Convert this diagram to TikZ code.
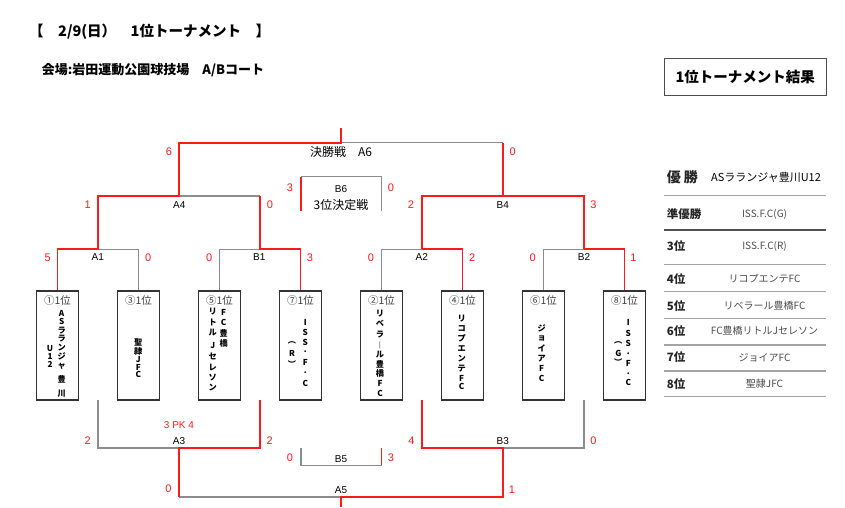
\documentclass[tikz,border=0pt]{standalone}
\usepackage{fontspec}
\setmainfont{Liberation Sans}
\newfontfamily\jp{Noto Sans CJK JP}
\definecolor{winred}{HTML}{FF1A1A}
\definecolor{lgray}{HTML}{8C8C8C}
\definecolor{dgray}{HTML}{505050}
\tikzset{
  win/.style={winred, line width=1.9pt},
  lose/.style={lgray, line width=1.2pt},
  teambox/.style={draw=black!80, line width=1.4pt, minimum width=41.5pt, minimum height=109pt, inner sep=0pt},
  score/.style={text=winred, font=\fontsize{11}{11}\selectfont, inner sep=0pt},
  mname/.style={font=\fontsize{10}{10}\selectfont, inner sep=0pt},
  seed/.style={font=\jp\fontsize{10.5}{10.5}\selectfont, text=black!75, inner sep=0pt},
  vch/.style={font=\jp\bfseries\fontsize{8.2}{8.2}\selectfont, text=black, inner sep=0pt},
  rank/.style={font=\jp\bfseries\fontsize{11.5}{11.5}\selectfont, text=black!85, anchor=west, inner sep=0pt},
  club/.style={font=\jp\fontsize{10}{10}\selectfont, text=black!70, inner sep=0pt},
  rule/.style={lgray!80, line width=1.2pt},
}
\begin{document}
\begin{tikzpicture}[x=1pt,y=-1pt]
\useasboundingbox[fill=white] (0,0) rectangle (845,507);
% headings
\node[anchor=west, inner sep=0pt, font=\jp\bfseries\fontsize{14.5}{14.5}\selectfont] (title) at (29,31.7) {【　2/9(日）　1位トーナメント　】};
\node[anchor=west, inner sep=0pt, font=\jp\bfseries\fontsize{13}{13}\selectfont] (venue) at (41.7,70) {会場:岩田運動公園球技場　A/Bコート};
% team boxes
\foreach \s/\x/\c in {1/57.5/①,3/138.5/③,5/219.5/⑤,7/300.5/⑦,2/381.5/②,4/462.5/④,6/543.5/⑥,8/624.5/⑧} {
  \node[teambox] (s\s) at (\x,345.5) {};
  \node[seed] (l\s) at (\x,300.5) {\c 1位};
}
% team names, written downwards
\foreach \ch/\yy [count=\i] in {A/313,S/321.3,ラ/330.3,ラ/338.7,ン/347.3,ジ/356.3,ャ/366.3,豊/379.7,川/394}
  \node[vch] (v1r\i) at (61.7,\yy) {\ch};
\foreach \ch/\yy [count=\i] in {U/348,1/356.3,2/364.7}
  \node[vch] (v1l\i) at (50,\yy) {\ch};
\foreach \ch/\yy [count=\i] in {聖/342.3,隷/351.3,J/359.7,F/367.3,C/374.7}
  \node[vch] (v3\i) at (138.3,\yy) {\ch};
\foreach \ch/\yy [count=\i] in {F/312,C/322.3,豊/333,橋/343}
  \node[vch] (v5r\i) at (223.7,\yy) {\ch};
\foreach \ch/\yy [count=\i] in {リ/312,ト/322.3,ル/333,J/345.3,セ/356.3,レ/367.3,ソ/378,ン/388}
  \node[vch] (v5l\i) at (212.7,\yy) {\ch};
\foreach \ch/\yy [count=\i] in {I/322.3,S/332.5,S/342.3,./351.8,F/362,./373,C/383}
  \node[vch] (v7r\i) at (305.3,\yy) {\ch};
\foreach \ch/\yy [count=\i] in {︵/343,R/353,︶/364}
  \node[vch] (v7l\i) at (292,\yy) {\ch};
\foreach \ch/\yy [count=\i] in {リ/313.3,ベ/323.3,ラ/335,︱/345,ル/355,豊/364.7,橋/373.7,F/383.3,C/393.3}
  \node[vch] (v2\i) at (380,\yy) {\ch};
\foreach \ch/\yy [count=\i] in {リ/318.3,コ/328.3,プ/338.3,エ/348.3,ン/358.3,テ/368.3,F/378.3,C/386.7}
  \node[vch] (v4\i) at (461.7,\yy) {\ch};
\foreach \ch/\yy [count=\i] in {ジ/328.3,ョ/338.3,イ/348.3,ア/358.3,F/368.3,C/378.3}
  \node[vch] (v6\i) at (541.7,\yy) {\ch};
\foreach \ch/\yy [count=\i] in {I/322.7,S/333.3,S/343.3,./353.3,F/363.3,./373.3,C/382.3}
  \node[vch] (v8r\i) at (628.3,\yy) {\ch};
\foreach \ch/\yy [count=\i] in {︵/343.3,G/353.3,︶/362.3}
  \node[vch] (v8l\i) at (618.3,\yy) {\ch};
% bracket points
\coordinate (a1) at (98,249.3);  \coordinate (b1) at (260,249.3);
\coordinate (a2) at (422,249.3); \coordinate (b2) at (584,249.3);
\coordinate (a4) at (179,196);   \coordinate (b4) at (503,196);
\coordinate (a6) at (341,142.7); \coordinate (top) at (341,128);
\coordinate (b6l) at (301,210.7); \coordinate (b6a) at (301,176.7);
\coordinate (b6r) at (381.5,210.7); \coordinate (b6b) at (381.5,176.7);
\coordinate (q1) at (98,400);  \coordinate (q2) at (260,400);
\coordinate (q3) at (422,400); \coordinate (q4) at (584,400);
\coordinate (a3) at (179,448);  \coordinate (b3) at (503,448);
\coordinate (a5) at (341,497);  \coordinate (bot) at (341,507);
\coordinate (b5l) at (301,448); \coordinate (b5a) at (301,465.3);
\coordinate (b5r) at (381.5,448); \coordinate (b5b) at (381.5,465.3);
% lost paths
\draw[lose] (a1) -| (s3.north);
\draw[lose] (b1) -| (s5.north);
\draw[lose] (a2) -| (s2.north);
\draw[lose] (b2) -| (s6.north);
\draw[lose] (a4) -- (a4 -| b1);
\draw[lose] (a6) -- (a6 -| b4);
\draw[lose] (b6a) -- (b6b) -- (b6r);
\draw[lose] (q1) |- (a3);
\draw[lose] (b3) -| (q4);
\draw[lose] (a3 |- a5) -- (a5);
\draw[lose] (b5l) -- (b5a) -- (b5b);
% winning paths
\draw[win] (s1.north) |- (a1) |- (a4) |- (a6) -- (top);
\draw[win] (a4 -| b1) -- (b1) -| (s7.north);
\draw[win] (a6 -| b4) -- (b4);
\draw[win] (a2) |- (b4) -| (b2);
\draw[win] (a2) -| (s4.north);
\draw[win] (b2) -| (s8.north);
\draw[win] (b6l) -- (b6a);
\draw[win] (q2) |- (a3) -- (a3 |- a5);
\draw[win] (q3) |- (b3) |- (a5) -- (bot);
\draw[win] (b5r) -- (b5b);
% match names and scores
\node[font=\jp\fontsize{12}{12}\selectfont, inner sep=0pt] (final) at (341,152.3) {決勝戦　A6};
\node[score] (a6x) at (169,151.7) {6};   \node[score] (a6y) at (512.7,152) {0};
\node[mname] (na4) at (179.3,205) {A4};  \node[score] (a4x) at (87.7,205) {1};  \node[score] (a4y) at (270,205) {0};
\node[mname] (nb4) at (502.7,205) {B4};  \node[score] (b4x) at (411,205) {2};   \node[score] (b4y) at (593.3,205) {3};
\node[mname] (na1) at (97.7,257.3) {A1}; \node[score] (a1x) at (47.7,257.3) {5};  \node[score] (a1y) at (148.3,257.3) {0};
\node[mname] (nb1) at (259.3,257.3) {B1}; \node[score] (b1x) at (209.3,257.3) {0}; \node[score] (b1y) at (310,257.3) {3};
\node[mname] (na2) at (421.7,257.3) {A2}; \node[score] (a2x) at (371,257.3) {0};  \node[score] (a2y) at (472.3,257.3) {2};
\node[mname] (nb2) at (584,257.3) {B2};  \node[score] (b2x) at (532.7,257.3) {0}; \node[score] (b2y) at (633.3,257.3) {1};
\node[mname] (nb6) at (341,189.3) {B6};  \node[score] (b6x) at (290,187.7) {3};   \node[score] (b6y) at (391,187.7) {0};
\node[font=\jp\fontsize{12}{12}\selectfont, inner sep=0pt] (third) at (341,205) {3位決定戦};
\node[score, font=\fontsize{10}{10}\selectfont] (pk) at (179,424.6) {3 PK 4};
\node[mname] (na3) at (179,441) {A3};    \node[score] (a3x) at (87.7,441) {2};   \node[score] (a3y) at (269.8,441) {2};
\node[mname] (nb3) at (502.8,441) {B3};  \node[score] (b3x) at (411.5,441) {4};  \node[score] (b3y) at (593.5,441) {0};
\node[mname] (nb5) at (341,458.6) {B5};  \node[score] (b5x) at (290,458) {0};    \node[score] (b5y) at (391,458) {3};
\node[mname] (na5) at (341,490) {A5};    \node[score] (a5x) at (168.4,489) {0};  \node[score] (a5y) at (512,490) {1};
% result table
\node[draw=black!70, line width=1pt, minimum width=161.7pt, minimum height=37.4pt, inner sep=0pt,
  font=\jp\bfseries\fontsize{14.5}{14.5}\selectfont] (result) at (745.2,77) {1位トーナメント結果};
\node[rank, font=\jp\bfseries\fontsize{14}{14}\selectfont] (r1) at (666.7,177.3) {優\kern3pt 勝};
\node[club, text=black, font=\jp\fontsize{11}{11}\selectfont] (c1) at (766,177.3) {ASラランジャ豊川U12};
\foreach \r/\t/\yy in {2/準優勝/214.3,3/3位/246.5,4/4位/279,5/5位/306,6/6位/331,7/7位/357.5,8/8位/384}
  \node[rank] (r\r) at (666.7,\yy) {\t};
\foreach \r/\t/\yy in {2/ISS.F.C(G)/214.3,3/ISS.F.C(R)/246.5,4/リコプエンテFC/279,5/リベラール豊橋FC/306,6/FC豊橋リトルJセレソン/331,7/ジョイアFC/357.5,8/聖隷JFC/384}
  \node[club] (c\r) at (764.5,\yy) {\t};
\foreach \yy in {195.7,264.3,291.7,318.3,345,371,396.7}
  \draw[rule] (664.3,\yy) -- (826,\yy);
\draw[dgray, line width=1.2pt] (664.3,230) -- (826,230);
\end{tikzpicture}
\end{document}
